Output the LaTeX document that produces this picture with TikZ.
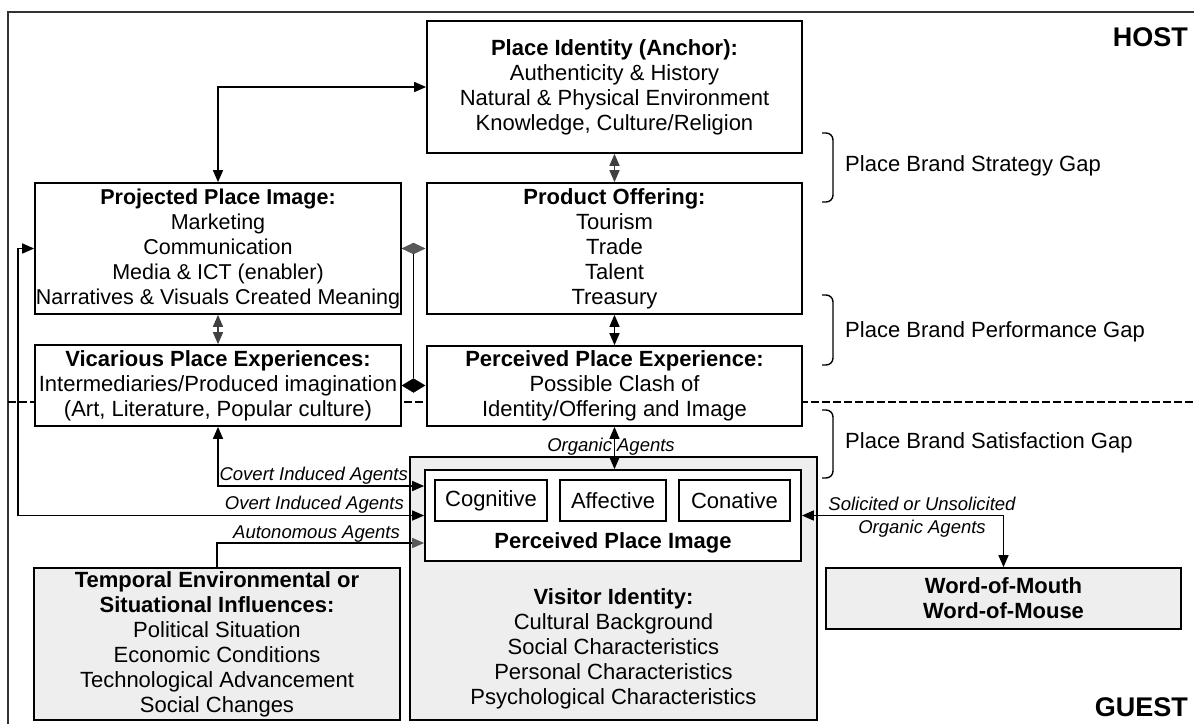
\documentclass[tikz,border=0pt]{standalone}
\usepackage{fontspec}
\setmainfont{Liberation Sans}
\usetikzlibrary{arrows.meta,calc,shapes.geometric}
\tikzset{
  box/.style={draw, line width=1.7pt, fill=white, inner sep=0pt, align=center,
    font=\fontsize{22}{25}\selectfont},
  graybox/.style={box, fill=gray!13},
  arr/.style={line width=1.5pt, -{Triangle[length=12pt,width=10pt]}},
  arrboth/.style={line width=1.5pt, {Triangle[length=12pt,width=10pt]}-{Triangle[length=12pt,width=10pt]}},
  lab/.style={inner sep=0pt, font=\fontsize{18.5}{22}\selectfont\itshape},
  gaplab/.style={inner sep=0pt, anchor=west, font=\fontsize{22}{25}\selectfont},
  gapbrace/.style={line width=1.4pt, rounded corners=7pt},
  bigword/.style={inner sep=0pt, anchor=east, font=\fontsize{27}{30}\selectfont\bfseries},
  sepline/.style={line width=2.6pt, dash pattern=on 8pt off 3pt},
}
\begin{document}
\begin{tikzpicture}[x=1pt,y=-1pt]
\useasboundingbox (0,0) rectangle (1194,724);
% frame
\draw[line width=1.4pt, black!80] (8,724) -- (8,12) -- (1194,12);
% host / guest separation
\draw[sepline] (8,402) -- (1194,402);

% boxes
\node[box, minimum width=375pt, minimum height=132pt] (ident) at (614.5,87)
  {\textbf{Place Identity (Anchor):}\\Authenticity \& History\\Natural \& Physical Environment\\Knowledge, Culture/Religion};
\node[box, minimum width=375pt, minimum height=131pt] (offer) at (614.5,248.5)
  {\textbf{Product Offering:}\\Tourism\\Trade\\Talent\\Treasury};
\node[box, minimum width=366pt, minimum height=131pt, font=\fontsize{21.5}{25}\selectfont] (proj) at (218,248.5)
  {\textbf{Projected Place Image:}\\Marketing\\Communication\\Media \& ICT (enabler)\\Narratives \& Visuals Created Meaning};
\node[box, minimum width=366pt, minimum height=81pt] (vic) at (218,385.5)
  {\textbf{Vicarious Place Experiences:}\\Intermediaries/Produced imagination\\(Art, Literature, Popular culture)};
\node[box, minimum width=375pt, minimum height=80pt] (ppe) at (614.5,386)
  {\textbf{Perceived Place Experience:}\\Possible Clash of\\Identity/Offering and Image};
\node[graybox, minimum width=366pt, minimum height=152pt] (temp) at (217,644)
  {\textbf{Temporal Environmental or}\\\textbf{Situational Influences:}\\Political Situation\\Economic Conditions\\Technological Advancement\\Social Changes};
\node[graybox, minimum width=407pt, minimum height=263pt] (visitor) at (613.5,588.5) {};
\node[inner sep=0pt, align=center, font=\fontsize{22}{25}\selectfont] (vistext) at (613.5,649)
  {\textbf{Visitor Identity:}\\Cultural Background\\Social Characteristics\\Personal Characteristics\\Psychological Characteristics};
\node[box, minimum width=376pt, minimum height=91pt] (ppi) at (613,515.5) {};
\node[box, minimum width=112pt, minimum height=41pt] (cog) at (491,500.5) {Cognitive};
\node[box, minimum width=106pt, minimum height=41pt] (aff) at (613,500.5) {Affective};
\node[box, minimum width=111pt, minimum height=41pt] (con) at (734.5,500.5) {Conative};
\node[inner sep=0pt, font=\fontsize{22}{25}\selectfont\bfseries] (ppilab) at (613,543) {Perceived Place Image};
\node[graybox, minimum width=355pt, minimum height=61pt] (wom) at (1003.5,598.5)
  {\textbf{Word-of-Mouth}\\\textbf{Word-of-Mouse}};

% diamonds
\node[diamond, draw=black!70, fill=black!65, inner sep=0pt, minimum width=23pt, minimum height=11pt] (dg) at (413.5,248.5) {};
\node[diamond, draw=black, fill=black, inner sep=0pt, minimum width=23pt, minimum height=14pt] (db) at (413.5,385.5) {};
\draw[line width=1.5pt] (dg.south) -- (db.north);

% connectors
\coordinate (lft) at (18,0);
\draw[arrboth] (proj.north) |- (ident.west);
\draw[arrboth, black!75] (ident.south) -- (offer.north);
\draw[arrboth] (offer.south) -- (ppe.north);
\draw[arrboth, black!75] (proj.south) -- (vic.south |- vic.north);
\draw[arrboth] (proj.west) -- (proj.west -| lft) -- (ppi.west -| lft) -- (ppi.west);
\draw[arrboth] (vic.south) |- ($(ppi.west)+(0,-29.5)$);
\draw[line width=1.5pt] (temp.north) |- ($(ppi.west)+(-12,27.5)$);
\draw[arr, black!65] ($(ppi.west)+(-12,27.5)$) -- ($(ppi.west)+(0,27.5)$);
\draw[arrboth] (ppe.south) -- (ppe.south |- ppi.north);
\draw[arrboth] (ppi.east) -| (wom.north);

% connector labels
\node[lab, anchor=base east] at (408,480) {Covert Induced Agents};
\node[lab, anchor=base east] at (404,509.5) {Overt Induced Agents};
\node[lab, anchor=base east] at (400,538.5) {Autonomous Agents};
\node[lab, anchor=base] at (611,451.5) {Organic Agents};
\node[lab, anchor=base] at (922,510) {Solicited or Unsolicited};
\node[lab, anchor=base] at (922,533.5) {Organic Agents};

% gap braces
\draw[gapbrace] (822,133) -- (833,133) -- (833,202) -- (822,202);
\draw[gapbrace] (822,295) -- (833,295) -- (833,365) -- (822,365);
\draw[gapbrace] (822,410) -- (833,410) -- (833,478) -- (822,478);
\node[gaplab] at (845,166) {Place Brand Strategy Gap};
\node[gaplab] at (845,332) {Place Brand Performance Gap};
\node[gaplab] at (845,443) {Place Brand Satisfaction Gap};

\node[bigword] at (1188,37) {HOST};
\node[bigword] at (1188,707) {GUEST};
\end{tikzpicture}
\end{document}
